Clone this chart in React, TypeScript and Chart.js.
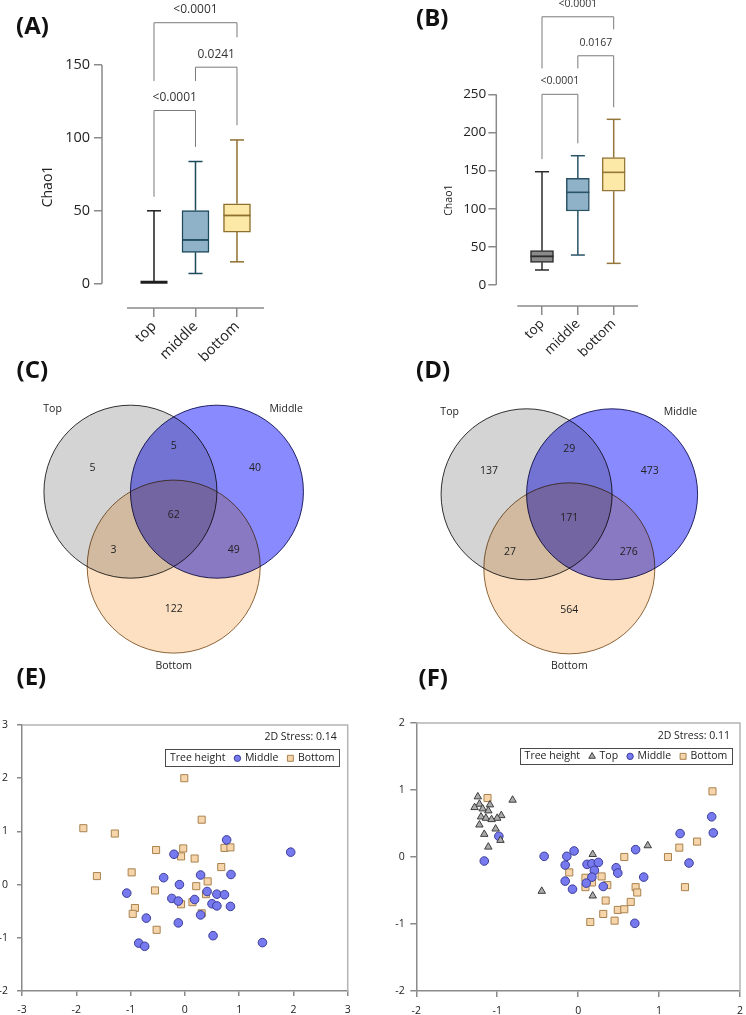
import React, { useEffect, useRef } from 'react';
import { Chart, registerables } from 'chart.js';
import { drawPoint } from 'chart.js/helpers';

Chart.register(...registerables);

const FONT = "'Open Sans', 'DejaVu Sans', sans-serif";
const TEXT = '#222222';
const AXIS = '#8a8a8a';

// ---------------- (A) / (B) Chao1 box plots ----------------
const heightGroups = ['top', 'middle', 'bottom'];
const yTicksA = [0, 50, 100, 150];
const yTicksB = [0, 50, 100, 150, 200, 250];

const chaoAMin = [1, 7, 15];
const chaoAQ1 = [1, 21.5, 35.4];
const chaoAMedian = [1, 30, 46.8];
const chaoAQ3 = [1, 50.2, 54.8];
const chaoAMax = [50, 83.8, 98.6];

const chaoBMin = [19.7, 39.3, 28.4];
const chaoBQ1 = [29.7, 97, 123];
const chaoBMedian = [37.6, 121.5, 147.7];
const chaoBQ3 = [45, 139.8, 166.9];
const chaoBMax = [148.5, 169.5, 217.2];

const bracketPairs = [[0, 1], [1, 2], [0, 2]];
const pValuesA = ['<0.0001', '0.0241', '<0.0001'];
const pValuesB = ['<0.0001', '0.0167', '<0.0001'];
// bracket heights in Chao1 units
const bracketBarA = [118.8, 148.5, 179];
const bracketLegStartA = [59.6, 139, 139];
const bracketLegEndA = [93.8, 108.7, 169];
const bracketBarB = [250, 300.5, 351.6];
const bracketLegStartB = [165, 284, 284];
const bracketLegEndB = [185.7, 233, 335];

// ---------------- (C) / (D) Venn diagrams ----------------
const vennSets = ['Top', 'Middle', 'Bottom'];
const vennRegions = ['Top only', 'Top & Middle', 'Middle only', 'All three', 'Top & Bottom', 'Middle & Bottom', 'Bottom only'];
const vennCountsC = [5, 5, 40, 62, 3, 49, 122];
const vennCountsD = [137, 29, 473, 171, 27, 276, 564];

// ---------------- (E) / (F) NMDS ----------------
const nmdsEMiddleX = [0.77, 1.95, -0.2, 0.29, 0.85, -0.39, -0.1, -1.07, 0.41, 0.59, 0.73, -0.24, -0.12, 0.18, 0.5, 0.59, 0.84, 0.29, -0.71, -0.12, 0.52, -0.85, -0.74, 1.43];
const nmdsEMiddleY = [0.84, 0.61, 0.57, 0.18, 0.19, 0.13, 0.0, -0.16, -0.13, -0.18, -0.19, -0.26, -0.31, -0.28, -0.36, -0.4, -0.41, -0.57, -0.63, -0.72, -0.96, -1.1, -1.16, -1.09];
const nmdsEBottomX = [-0.01, 0.31, -1.87, -1.29, -0.53, -0.03, -0.07, 0.18, 0.73, 0.84, 0.67, -0.98, -1.62, 0.42, 0.21, -0.55, 0.39, 0.14, -0.07, -0.92, -0.96, 0.31, -0.52];
const nmdsEBottomY = [2.0, 1.22, 1.06, 0.96, 0.65, 0.68, 0.53, 0.49, 0.69, 0.7, 0.33, 0.23, 0.16, 0.06, -0.03, -0.11, -0.18, -0.33, -0.37, -0.44, -0.55, -0.54, -0.85];

const nmdsFTopX = [-1.24, -1.22, -1.28, -1.18, -1.09, -0.81, -1.11, -0.95, -1.0, -1.2, -1.14, -1.07, -1.22, -1.02, -1.16, -0.96, -1.11, -0.45, 0.18, 0.86, 0.18];
const nmdsFTopY = [0.9, 0.79, 0.74, 0.72, 0.78, 0.85, 0.69, 0.62, 0.58, 0.6, 0.58, 0.56, 0.48, 0.42, 0.34, 0.25, 0.15, -0.51, 0.04, 0.17, -0.58];
const nmdsFMiddleX = [-0.98, -1.16, -0.42, -0.14, -0.05, -0.16, -0.16, -0.07, 0.11, 0.17, 0.25, 0.2, 0.17, 0.1, 0.31, 0.47, 0.49, 0.71, 0.81, 0.7, 1.26, 1.37, 1.65, 1.67];
const nmdsFMiddleY = [0.31, -0.06, 0.01, 0.01, 0.09, -0.12, -0.36, -0.48, -0.11, -0.1, -0.08, -0.2, -0.3, -0.39, -0.44, -0.16, -0.24, 0.11, -0.3, -0.99, 0.35, -0.09, 0.6, 0.36];
const nmdsFBottomX = [-1.12, 1.66, -0.11, 0.09, 0.09, 0.17, 0.29, 0.36, 0.57, 0.71, 0.73, 0.34, 0.31, 0.15, 0.45, 0.49, 0.57, 0.65, 1.11, 1.25, 1.47, 1.32];
const nmdsFBottomY = [0.88, 0.98, -0.23, -0.31, -0.45, -0.38, -0.29, -0.42, 0.0, -0.45, -0.53, -0.65, -0.85, -0.97, -0.95, -0.79, -0.78, -0.67, 0.0, 0.14, 0.23, -0.45];

// ================= plugins =================
const boxWhiskersPlugin = {
  id: 'boxWhiskers',
  afterDatasetsDraw(chart: any, _a: any, o: any) {
    const { ctx } = chart;
    const y = chart.scales.y;
    const meta = chart.getDatasetMeta(0);
    meta.data.forEach((bar: any, i: number) => {
      const cx = bar.x;
      const hw = bar.width / 2;
      const line = (x1: number, y1: number, x2: number, y2: number) => {
        ctx.beginPath();
        ctx.moveTo(x1, y1);
        ctx.lineTo(x2, y2);
        ctx.stroke();
      };
      ctx.save();
      ctx.strokeStyle = o.strokes[i];
      ctx.lineWidth = o.lineWidth;
      const pMin = y.getPixelForValue(o.min[i]);
      const pMax = y.getPixelForValue(o.max[i]);
      const pQ1 = y.getPixelForValue(o.q1[i]);
      const pQ3 = y.getPixelForValue(o.q3[i]);
      line(cx, pQ3, cx, pMax);
      line(cx, pQ1, cx, pMin);
      line(cx - o.capWidth / 2, pMax, cx + o.capWidth / 2, pMax);
      line(cx - o.capWidth / 2, pMin, cx + o.capWidth / 2, pMin);
      ctx.lineWidth = o.medianWidth[i];
      const pMed = y.getPixelForValue(o.median[i]);
      line(cx - hw, pMed, cx + hw, pMed);
      ctx.restore();
    });
  },
};

const bracketsPlugin = {
  id: 'sigBrackets',
  afterDraw(chart: any, _a: any, o: any) {
    const { ctx } = chart;
    const x = chart.scales.x;
    const y = chart.scales.y;
    ctx.save();
    o.pairs.forEach((pair: number[], i: number) => {
      const xa = x.getPixelForValue(pair[0]);
      const xb = x.getPixelForValue(pair[1]);
      const yb = y.getPixelForValue(o.bar[i]);
      ctx.strokeStyle = '#7a7a7a';
      ctx.lineWidth = 1;
      ctx.beginPath();
      ctx.moveTo(xa, y.getPixelForValue(o.legStart[i]));
      ctx.lineTo(xa, yb);
      ctx.lineTo(xb, yb);
      ctx.lineTo(xb, y.getPixelForValue(o.legEnd[i]));
      ctx.stroke();
      ctx.fillStyle = '#333';
      ctx.font = `${o.fontSize}px ${FONT}`;
      ctx.textAlign = 'center';
      ctx.textBaseline = 'middle';
      ctx.fillText(o.labels[i], (xa + xb) / 2, yb - o.textOffset);
    });
    ctx.restore();
  },
};

const prismAxesPlugin = {
  id: 'prismAxes',
  afterDraw(chart: any, _a: any, o: any) {
    const { ctx, chartArea } = chart;
    const x = chart.scales.x;
    const y = chart.scales.y;
    ctx.save();
    ctx.strokeStyle = AXIS;
    ctx.lineWidth = 1.5;
    ctx.beginPath();
    ctx.moveTo(chartArea.left, y.getPixelForValue(o.yFrom));
    ctx.lineTo(chartArea.left, y.getPixelForValue(o.yTo));
    ctx.moveTo(x.getPixelForValue(o.xFrom), chartArea.bottom);
    ctx.lineTo(chartArea.right, chartArea.bottom);
    ctx.stroke();
    ctx.restore();
  },
};

const multiplyPlugin = {
  id: 'vennMultiply',
  beforeDatasetsDraw(chart: any) {
    chart.ctx.save();
    chart.ctx.globalCompositeOperation = 'multiply';
  },
  afterDatasetsDraw(chart: any) {
    chart.ctx.restore();
  },
};

const vennTextPlugin = {
  id: 'vennText',
  afterDraw(chart: any, _a: any, o: any) {
    const { ctx } = chart;
    const x = chart.scales.x;
    const y = chart.scales.y;
    ctx.save();
    ctx.fillStyle = TEXT;
    ctx.font = `${o.fontSize}px ${FONT}`;
    ctx.textAlign = 'center';
    ctx.textBaseline = 'middle';
    o.counts.forEach((c: number, i: number) => {
      ctx.fillText(String(c), x.getPixelForValue(o.regionX[i]), y.getPixelForValue(o.regionY[i]));
    });
    o.setNames.forEach((n: string, i: number) => {
      ctx.fillText(n, x.getPixelForValue(o.nameX[i]), y.getPixelForValue(o.nameY[i]));
    });
    ctx.restore();
  },
};

const framePlugin = {
  id: 'plotFrame',
  afterDraw(chart: any) {
    const { ctx, chartArea } = chart;
    ctx.save();
    ctx.strokeStyle = '#b4b4b4';
    ctx.lineWidth = 1.5;
    ctx.beginPath();
    ctx.moveTo(chartArea.left, chartArea.top);
    ctx.lineTo(chartArea.right, chartArea.top);
    ctx.lineTo(chartArea.right, chartArea.bottom);
    ctx.stroke();
    ctx.restore();
  },
};

const nmdsLegendPlugin = {
  id: 'nmdsLegend',
  afterDraw(chart: any, _a: any, o: any) {
    const { ctx, chartArea } = chart;
    const sets = chart.data.datasets;
    ctx.save();
    ctx.font = `${o.fontSize}px ${FONT}`;
    const mk = 7;
    const tw = (t: string) => ctx.measureText(t).width;
    let w = o.pad + tw(o.title);
    sets.forEach((ds: any) => {
      w += o.gap + mk + o.markerGap + tw(ds.label);
    });
    w += o.pad;
    const right = chartArea.right - o.right;
    const left = right - w;
    const top = chartArea.top + o.top;
    ctx.fillStyle = '#ffffff';
    ctx.fillRect(left, top, w, o.height);
    ctx.strokeStyle = '#4a4a4a';
    ctx.lineWidth = 1;
    ctx.strokeRect(Math.round(left) + 0.5, Math.round(top) + 0.5, Math.round(w), Math.round(o.height));
    const cy = top + o.height / 2 + 0.5;
    ctx.textBaseline = 'middle';
    ctx.textAlign = 'left';
    ctx.fillStyle = TEXT;
    let cx = left + o.pad;
    ctx.fillText(o.title, cx, cy);
    cx += tw(o.title);
    sets.forEach((ds: any) => {
      cx += o.gap;
      ctx.fillStyle = ds.backgroundColor;
      ctx.strokeStyle = ds.borderColor;
      ctx.lineWidth = 1;
      drawPoint(ctx, { pointStyle: ds.pointStyle, rotation: 0, radius: o.markerRadius[ds.pointStyle], borderWidth: 1 }, cx + mk / 2, cy);
      cx += mk + o.markerGap;
      ctx.fillStyle = TEXT;
      ctx.fillText(ds.label, cx, cy);
      cx += tw(ds.label);
    });
    ctx.textAlign = 'right';
    ctx.fillText(o.stress, chartArea.right - o.stressRight, chartArea.top + o.stressTop);
    ctx.restore();
  },
};

// ================= config builders =================
function boxPlotConfig(s: any) {
  return {
    type: 'bar',
    data: {
      datasets: [
        {
          label: 'Chao1',
          data: heightGroups.map((_, i) => ({ x: i, y: [s.q1[i], s.q3[i]] })),
          backgroundColor: s.fills,
          borderColor: s.strokes,
          borderWidth: 1.5,
          borderSkipped: false,
          barThickness: s.boxWidth,
        },
      ],
    },
    options: {
      responsive: false,
      animation: false,
      events: [],
      layout: { padding: s.padding },
      plugins: {
        legend: { display: false },
        tooltip: { enabled: false },
        boxWhiskers: {
          min: s.min, q1: s.q1, median: s.median, q3: s.q3, max: s.max,
          strokes: s.strokes, lineWidth: 1.5, capWidth: 14, medianWidth: s.medianWidth,
        },
        sigBrackets: {
          pairs: bracketPairs, labels: s.pLabels, bar: s.bracketBar, legStart: s.legStart, legEnd: s.legEnd,
          fontSize: s.pFont, textOffset: 13,
        },
        prismAxes: { yFrom: 0, yTo: s.yTicks[s.yTicks.length - 1], xFrom: s.xLineFrom },
      },
      scales: {
        x: {
          type: 'linear',
          min: s.xMin,
          max: s.xMax,
          offset: false,
          afterBuildTicks: (sc: any) => {
            sc.ticks = heightGroups.map((_, i) => ({ value: i }));
          },
          afterFit: (sc: any) => {
            sc.height = s.xHeight;
            sc.paddingLeft = 0;
            sc.paddingRight = 0;
          },
          ticks: {
            autoSkip: false,
            minRotation: 45,
            maxRotation: 45,
            padding: 1,
            color: TEXT,
            font: { family: FONT, size: s.tickFont },
            callback: (v: number) => heightGroups[v] ?? '',
          },
          grid: { offset: false, drawOnChartArea: false, drawTicks: true, tickLength: 9, color: AXIS, lineWidth: 1.5 },
          border: { display: false },
        },
        y: {
          type: 'linear',
          min: s.yMin,
          max: s.yTicks[s.yTicks.length - 1],
          afterBuildTicks: (sc: any) => {
            sc.ticks = s.yTicks.map((v: number) => ({ value: v }));
          },
          afterFit: (sc: any) => {
            sc.width = s.yWidth;
            sc.paddingTop = 0;
            sc.paddingBottom = 0;
          },
          ticks: { padding: s.yTickPad, color: TEXT, font: { family: FONT, size: s.tickFont } },
          grid: { drawOnChartArea: false, drawTicks: true, tickLength: 8, color: AXIS, lineWidth: 1.5 },
          border: { display: false },
          title: { display: true, text: 'Chao1', color: TEXT, font: { family: FONT, size: s.titleFont } },
        },
      },
    },
    plugins: [boxWhiskersPlugin, bracketsPlugin, prismAxesPlugin],
  };
}

// standard symmetric three-set Venn layout: unit radius, centres one radius apart
const vennCentreX = [-0.5, 0.5, 0];
const vennCentreY = [0, 0, -Math.sqrt(3) / 2];
const vennRegionX = [-0.94, 0, 0.94, 0, -0.695, 0.695, 0];
const vennRegionY = [0.27, 0.525, 0.27, -0.272, -0.672, -0.672, -1.355];
const vennNameX = [-1.4, 1.3, 0];
const vennNameY = [0.96, 0.96, -2.013];
const vennFill = ['#d4d4d4', '#8a8aff', '#fde0c2'];
const vennStroke = ['#333333', '#2a2a66', '#8c6a3e'];

function vennConfig(s: any) {
  const radius = (ctx: any) => {
    const sc = ctx.chart.scales.x;
    return Math.abs(sc.getPixelForValue(1) - sc.getPixelForValue(0));
  };
  return {
    type: 'scatter',
    data: {
      datasets: vennSets.map((name, i) => ({
        label: name,
        data: [{ x: vennCentreX[i], y: vennCentreY[i] }],
        pointRadius: radius,
        pointHoverRadius: radius,
        backgroundColor: vennFill[i],
        borderColor: vennStroke[i],
        borderWidth: 1,
        clip: false,
      })),
    },
    options: {
      responsive: false,
      animation: false,
      events: [],
      layout: { padding: 0 },
      plugins: {
        legend: { display: false },
        tooltip: { enabled: false },
        vennText: {
          counts: s.counts, regionX: vennRegionX, regionY: vennRegionY,
          setNames: vennSets, nameX: vennNameX, nameY: vennNameY, fontSize: 10.5,
        },
      },
      scales: {
        x: { type: 'linear', display: false, min: s.xMin, max: s.xMax },
        y: { type: 'linear', display: false, min: s.yMin, max: s.yMax },
      },
    },
    plugins: [multiplyPlugin, vennTextPlugin],
  };
}

const nmdsStyles: any = {
  Top: { style: 'triangle', radius: 4.3, fill: '#ababab', stroke: '#3d3d3d' },
  Middle: { style: 'circle', radius: 4.3, fill: '#7779ee', stroke: '#3b3d99' },
  Bottom: { style: 'rect', radius: 5, fill: '#f6d5ab', stroke: '#a9824f' },
};

function nmdsConfig(s: any) {
  const tickFont = { family: FONT, size: 10.5 };
  return {
    type: 'scatter',
    data: {
      datasets: s.groups.map((g: any) => ({
        label: g.label,
        data: g.xs.map((v: number, i: number) => ({ x: v, y: g.ys[i] })),
        pointStyle: nmdsStyles[g.label].style,
        pointRadius: nmdsStyles[g.label].radius,
        pointHoverRadius: nmdsStyles[g.label].radius,
        backgroundColor: nmdsStyles[g.label].fill,
        borderColor: nmdsStyles[g.label].stroke,
        borderWidth: 1,
      })),
    },
    options: {
      responsive: false,
      animation: false,
      events: [],
      layout: { padding: s.padding },
      plugins: {
        legend: { display: false },
        tooltip: { enabled: false },
        nmdsLegend: {
          title: 'Tree height', stress: s.stress, fontSize: 10.5, pad: 4.5, gap: 8.5, markerGap: 4,
          right: s.legendRight, top: s.legendTop, height: s.legendHeight,
          stressRight: s.stressRight, stressTop: s.stressTop,
          markerRadius: { circle: 3.2, rect: 4.2, triangle: 3.8 },
        },
      },
      scales: {
        x: {
          type: 'linear', min: s.xMin, max: s.xMax,
          afterFit: (sc: any) => {
            sc.height = s.xHeight;
            sc.paddingLeft = 0;
            sc.paddingRight = 0;
          },
          ticks: { stepSize: 1, padding: 8, color: TEXT, font: tickFont },
          grid: { drawOnChartArea: false, tickLength: s.tickLength, color: AXIS, lineWidth: 1.5 },
          border: { color: AXIS, width: 1.5 },
        },
        y: {
          type: 'linear', min: s.yMin, max: s.yMax,
          afterFit: (sc: any) => {
            sc.width = s.yWidth;
            sc.paddingTop = 0;
            sc.paddingBottom = 0;
          },
          ticks: { stepSize: 1, padding: s.yTickPad, color: TEXT, font: tickFont },
          grid: { drawOnChartArea: false, tickLength: s.tickLength, color: AXIS, lineWidth: 1.5 },
          border: { color: AXIS, width: 1.5 },
        },
      },
    },
    plugins: [framePlugin, nmdsLegendPlugin],
  };
}

// ================= components =================
function ChartPanel(props: { left: number; top: number; width: number; height: number; make: () => any }) {
  const ref = useRef<HTMLCanvasElement>(null);
  useEffect(() => {
    const chart = new Chart(ref.current as HTMLCanvasElement, props.make());
    return () => chart.destroy();
  }, []);
  return (
    <canvas
      ref={ref}
      width={props.width}
      height={props.height}
      style={{ position: 'absolute', left: props.left, top: props.top, width: props.width, height: props.height }}
    />
  );
}

function PanelLabel(props: { text: string; left: number; centerY: number }) {
  return (
    <div
      style={{
        position: 'absolute', left: props.left, top: props.centerY - 12, height: 24, lineHeight: '24px',
        fontFamily: FONT, fontWeight: 700, fontSize: 24, color: '#111', whiteSpace: 'nowrap',
      }}
    >
      {props.text}
    </div>
  );
}

export default function App() {
  return (
    <div style={{ position: 'fixed', left: 0, top: 0, width: 746, height: 1015, overflow: 'hidden', background: '#fff' }}>
      <ChartPanel left={0} top={330} width={373} height={350}
        make={() => vennConfig({ counts: vennCountsC, xMin: -2.008, xMax: 2.304, yMin: -2.177, yMax: 1.869 })} />
      <ChartPanel left={373} top={330} width={373} height={350}
        make={() => vennConfig({ counts: vennCountsD, xMin: -2.296, xMax: 2.066, yMin: -2.172, yMax: 1.922 })} />
      <ChartPanel left={0} top={640} width={373} height={375}
        make={() => nmdsConfig({
          groups: [
            { label: 'Middle', xs: nmdsEMiddleX, ys: nmdsEMiddleY },
            { label: 'Bottom', xs: nmdsEBottomX, ys: nmdsEBottomY },
          ],
          stress: '2D Stress: 0.14', xMin: -3, xMax: 3, yMin: -2, yMax: 3,
          padding: { left: 0, top: 85, right: 25.3, bottom: 0 }, yWidth: 22, xHeight: 24, tickLength: 5, yTickPad: 9,
          legendRight: 8.7, legendTop: 24.3, legendHeight: 17, stressRight: 11, stressTop: 12.3,
        })} />
      <ChartPanel left={373} top={640} width={373} height={375}
        make={() => nmdsConfig({
          groups: [
            { label: 'Top', xs: nmdsFTopX, ys: nmdsFTopY },
            { label: 'Middle', xs: nmdsFMiddleX, ys: nmdsFMiddleY },
            { label: 'Bottom', xs: nmdsFBottomX, ys: nmdsFBottomY },
          ],
          stress: '2D Stress: 0.11', xMin: -2, xMax: 2, yMin: -2, yMax: 2,
          padding: { left: 0, top: 83, right: 3, bottom: 0 }, yWidth: 43.3, xHeight: 24, tickLength: 6, yTickPad: 5.6,
          legendRight: 8.3, legendTop: 24.7, legendHeight: 16.3, stressRight: 10, stressTop: 12.7,
        })} />
      <ChartPanel left={0} top={0} width={373} height={385}
        make={() => boxPlotConfig({
          min: chaoAMin, q1: chaoAQ1, median: chaoAMedian, q3: chaoAQ3, max: chaoAMax,
          fills: ['#222222', '#8fb2c9', '#fde9a7'], strokes: ['#1e1e1e', '#1d4a5c', '#8f6f2e'],
          medianWidth: [3, 1.8, 1.8], boxWidth: 27,
          pLabels: pValuesA, bracketBar: bracketBarA, legStart: bracketLegStartA, legEnd: bracketLegEndA, pFont: 12,
          yTicks: yTicksA, yMin: -16.67, xMin: -1.253, xMax: 2.651, xLineFrom: -0.65,
          padding: { left: 35.6, top: 65, right: 109, bottom: 0 }, yWidth: 66.4, xHeight: 77,
          tickFont: 14.5, titleFont: 14, yTickPad: 4,
        })} />
      <ChartPanel left={373} top={0} width={373} height={385}
        make={() => boxPlotConfig({
          min: chaoBMin, q1: chaoBQ1, median: chaoBMedian, q3: chaoBQ3, max: chaoBMax,
          fills: ['#8a8a8a', '#8fb2c9', '#fde9a7'], strokes: ['#2b2b2b', '#2a5366', '#94753a'],
          medianWidth: [1.8, 1.6, 1.6], boxWidth: 23,
          pLabels: pValuesB, bracketBar: bracketBarB, legStart: bracketLegStartB, legEnd: bracketLegEndB, pFont: 10.5,
          yTicks: yTicksB, yMin: -27.5, xMin: -1.275, xMax: 2.678, xLineFrom: -0.689,
          padding: { left: 65.7, top: 94.3, right: 108, bottom: 0 }, yWidth: 57.6, xHeight: 79,
          tickFont: 13.5, titleFont: 10.5, yTickPad: 2,
        })} />
      <PanelLabel text="(A)" left={16} centerY={25} />
      <PanelLabel text="(B)" left={416} centerY={16.5} />
      <PanelLabel text="(C)" left={16.5} centerY={369} />
      <PanelLabel text="(D)" left={416} centerY={369} />
      <PanelLabel text="(E)" left={16.5} centerY={676} />
      <PanelLabel text="(F)" left={418.5} centerY={676.5} />
    </div>
  );
}
